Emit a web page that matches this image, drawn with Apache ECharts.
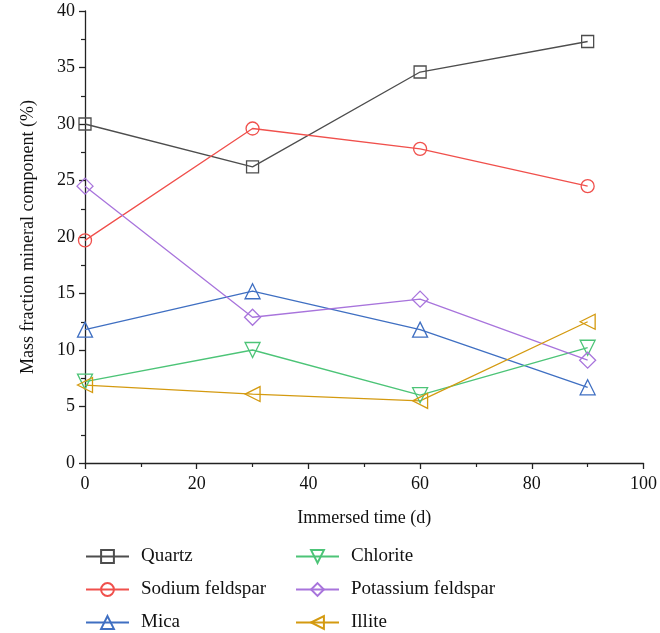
<!DOCTYPE html>
<html>
<head>
<meta charset="utf-8">
<script src="https://cdn.jsdelivr.net/npm/echarts@6/dist/echarts.min.js"></script>
<style>
  html, body { margin: 0; padding: 0; background: #fff; }
  #chart { width: 660px; height: 633px; }
</style>
</head>
<body>
<div id="chart"></div>
<script>
// immersed time (d)
var days = [0, 30, 60, 90];

// mass fraction (%) per mineral
var quartz = [30.0, 26.2, 34.6, 37.3];
var sodium = [19.7, 29.6, 27.8, 24.5];
var mica = [11.8, 15.2, 11.8, 6.7];
var chlorite = [7.2, 10.0, 6.0, 10.2];
var potassium = [24.5, 12.9, 14.5, 9.1];
var illite = [6.9, 6.1, 5.5, 12.5];

var names = ['Quartz', 'Sodium feldspar', 'Mica', 'Chlorite', 'Potassium feldspar', 'Illite'];

var font = 'Liberation Serif';

function pairs(vals) {
  return days.map(function (d, i) { return [d, vals[i]]; });
}

function mkSeries(name, vals, color, symbol, size, rotate) {
  return {
    name: name,
    type: 'line',
    data: pairs(vals),
    symbol: symbol,
    symbolSize: size,
    symbolRotate: rotate || 0,
    showAllSymbol: true,
    lineStyle: { color: color, width: 1.3 },
    itemStyle: { color: 'rgba(255,255,255,0)', borderColor: color, borderWidth: 1.3 },
    emphasis: { disabled: true },
    z: 2
  };
}

// legend column, shared settings
function mkLegend(items, left) {
  return {
    data: items,
    orient: 'vertical',
    left: left,
    top: 547,
    padding: 0,
    itemWidth: 43,
    itemHeight: 16,
    itemGap: 14,
    textStyle: { fontFamily: font, fontSize: 19, lineHeight: 18, color: '#111', padding: [0, 0, 0, 7] }
  };
}

var chart = echarts.init(document.getElementById('chart'));

var option = {
  animation: false,
  backgroundColor: '#fff',
  textStyle: { fontFamily: font },
  grid: { left: 85, right: 13, top: 11, bottom: 170 },
  legend: [
    mkLegend(names.slice(0, 3), 85),
    mkLegend(names.slice(3), 295)
  ],
  xAxis: {
    type: 'value',
    min: 0,
    max: 100,
    interval: 20,
    name: 'Immersed time (d)',
    nameLocation: 'middle',
    nameGap: 46,
    nameTextStyle: { fontFamily: font, fontSize: 18, color: '#111' },
    axisLine: { show: true, onZero: false, lineStyle: { color: '#222', width: 1.3 } },
    axisTick: { show: true, length: 6, lineStyle: { color: '#222', width: 1.3 } },
    minorTick: { show: true, splitNumber: 2, length: 4, lineStyle: { color: '#222', width: 1.2 } },
    splitLine: { show: false },
    axisLabel: { fontFamily: font, fontSize: 18, color: '#111', margin: 12 }
  },
  yAxis: {
    type: 'value',
    min: 0,
    max: 40,
    interval: 5,
    name: 'Mass fraction mineral component (%)',
    nameLocation: 'middle',
    nameGap: 48,
    nameTextStyle: { fontFamily: font, fontSize: 18, color: '#111' },
    axisLine: { show: true, onZero: false, lineStyle: { color: '#222', width: 1.3 } },
    axisTick: { show: true, length: 6, lineStyle: { color: '#222', width: 1.3 } },
    minorTick: { show: true, splitNumber: 2, length: 4, lineStyle: { color: '#222', width: 1.2 } },
    splitLine: { show: false },
    axisLabel: { fontFamily: font, fontSize: 18, color: '#111', margin: 10 }
  },
  series: [
    mkSeries('Quartz', quartz, '#4d4d4d', 'rect', 12),
    mkSeries('Sodium feldspar', sodium, '#f0504c', 'circle', 13),
    mkSeries('Mica', mica, '#3f6fc2', 'triangle', 15),
    mkSeries('Chlorite', chlorite, '#4cc477', 'triangle', 15, 180),
    mkSeries('Potassium feldspar', potassium, '#a874dc', 'diamond', 16),
    mkSeries('Illite', illite, '#d49a10', 'triangle', 15, 90)
  ]
};

chart.setOption(option);
</script>
</body>
</html>
